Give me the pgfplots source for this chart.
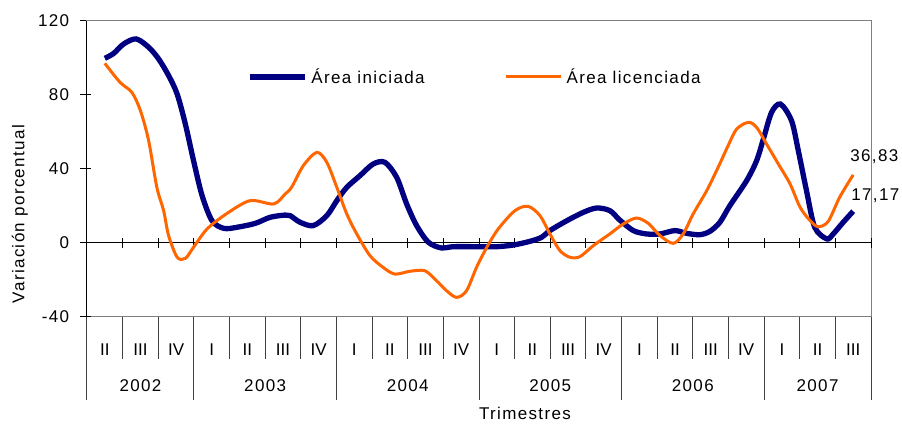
\documentclass[border=0pt]{standalone}
\usepackage{fontspec}
\setmainfont{Liberation Sans}[LetterSpace=8]
\newfontfamily\tightfont{Liberation Sans}
\usepackage{pgfplots}
\pgfplotsset{compat=1.18}
\definecolor{navyline}{RGB}{0,0,128}
\definecolor{orangeline}{RGB}{255,102,0}
\definecolor{framegray}{RGB}{128,128,128}
\begin{document}
\fontsize{17pt}{20pt}\selectfont
\begin{tikzpicture}
\useasboundingbox (-87pt,-110pt) rectangle (815pt,317pt);
\begin{axis}[
  at={(0pt,0pt)}, anchor=south west,
  scale only axis, width=784pt, height=296pt,
  xmin=-0.5, xmax=21.5, ymin=-40, ymax=120,
  clip=false,
  axis line style={framegray, line width=1pt},
  xtick={0,...,21},
  xticklabels={II,III,IV,I,II,III,IV,I,II,III,IV,I,II,III,IV,I,II,III,IV,I,II,III},
  xtick style={draw=none},
  xticklabel style={anchor=base, yshift=-32pt, font=\tightfont},
  ytick={-40,0,40,80,120},
  ytick pos=left, tick align=outside,
  major tick length=7pt,
  ytick style={black, line width=1pt},
  yticklabel style={anchor=east, xshift=-5pt},
  /pgf/number format/assume math mode=true,
  legend columns=2,
  legend style={draw=none, fill=none, at={(0.204,0.811)}, anchor=west, inner sep=0pt,
    /tikz/every even column/.append style={column sep=78pt}},
  legend image code/.code={\draw[#1] (0pt,0pt) -- (55pt,0pt);},
  legend cell align=left,
]
\draw[black, line width=1pt] (axis cs:-0.5,0) -- (axis cs:21.5,0);
\pgfplotsinvokeforeach{0.5,1.5,...,21.5}{
  \draw[black, line width=1pt] (axis cs:#1,0) ++(0pt,-5pt) -- ++(0pt,10pt);
}
\pgfplotsinvokeforeach{-40,40,80}{
  \draw[black, line width=1pt] (axis cs:-0.5,#1) -- ++(4pt,0pt);
}
\pgfplotsinvokeforeach{0.5,1.5,...,20.5}{
  \draw[black!75, line width=1pt] (axis cs:#1,-40) -- ++(0pt,-42pt);
}
\pgfplotsinvokeforeach{-0.5,2.5,6.5,10.5,14.5,18.5,21.5}{
  \draw[black!75, line width=1pt] (axis cs:#1,-40) -- ++(0pt,-83pt);
}
\draw[black, line width=1pt] (axis cs:-0.5,-40) -- (axis cs:-0.5,120);

\addplot[navyline, line width=5.3pt, smooth] coordinates {
(0,99.8)(0.25,102.5)(0.53,107.6)(0.88,110.3)(1.23,105.8)(1.51,99.5)(1.79,90.5)(2.03,80.5)(2.26,64.3)(2.49,44.5)(2.73,25.6)(3.01,12)(3.34,7.9)(3.71,8.5)(4.22,10.6)(4.64,13.9)(5.06,15.1)(5.20,14.8)(5.48,11.2)(5.85,9.4)(6.23,14.8)(6.51,22.9)(6.79,30.1)(7.16,36.4)(7.53,42.7)(7.86,43.6)(8.19,35.5)(8.47,21.1)(8.75,9.4)(9.08,0.4)(9.45,-2.7)(9.78,-2)(10.53,-2)(11.0,-2)(11.46,-1.1)(11.93,0.9)(12.26,3.1)(12.49,6.7)(12.96,12)(13.43,16.6)(13.80,18.9)(14.17,17.5)(14.45,12.4)(14.83,6.7)(15.20,4.9)(15.58,4.9)(16.0,6.7)(16.33,5.2)(16.70,4.5)(16.98,6.3)(17.26,11.2)(17.54,20.2)(18.01,33.7)(18.29,44.5)(18.48,56.2)(18.71,70.6)(18.96,75.1)(19.27,66.1)(19.46,49.9)(19.69,28.3)(19.92,8.5)(20.26,2.2)(20.44,4.9)(20.72,11.2)(21,17.17)
};
\addlegendentry{\hspace{2pt}Área iniciada}
\addplot[orangeline, line width=3pt, smooth] coordinates {
(0,97.1)(0.43,86.8)(0.76,81.4)(1.0,71.5)(1.23,55.3)(1.46,30.1)(1.65,17.5)(1.79,4)(2.03,-7.7)(2.26,-8.3)(2.49,-2.3)(2.87,7.6)(3.43,16)(4.08,22.9)(4.74,21.1)(5.06,26.5)(5.24,30.1)(5.57,41.8)(5.95,49)(6.23,43.6)(6.51,30.1)(6.79,15.7)(7.07,4.9)(7.44,-6.8)(7.81,-13.2)(8.14,-16.8)(8.56,-15.3)(8.98,-15)(9.31,-20.4)(9.59,-25.8)(9.87,-29.4)(10.15,-25.8)(10.43,-13.2)(10.72,-2.3)(11.04,7.6)(11.51,17.5)(11.88,19.8)(12.21,14.8)(12.49,4.9)(12.77,-4.1)(13.05,-7.7)(13.33,-7.4)(13.71,-1.4)(14.17,4.9)(14.55,10.3)(14.92,13.5)(15.25,10.6)(15.58,4)(15.95,-0.2)(16.23,4.9)(16.51,15.7)(16.89,28.3)(17.21,40.9)(17.49,52.6)(17.73,61.6)(18.06,65.2)(18.29,62.5)(18.57,53.5)(18.90,42.7)(19.23,31.9)(19.51,19.3)(19.79,12.1)(20.02,8.8)(20.30,11.7)(20.62,24.7)(21,36.83)
};
\addlegendentry{\hspace{2pt}Área licenciada}

\node[anchor=west, inner sep=0pt, xshift=-3pt, yshift=18pt] at (axis cs:21,36.83) {36,83};
\node[anchor=west, inner sep=0pt, xshift=-2pt, yshift=15pt] at (axis cs:21,17.17) {17,17};

\node[anchor=base] at ([yshift=-75pt]axis cs:1,-40) {2002};
\node[anchor=base] at ([yshift=-75pt]axis cs:4.5,-40) {2003};
\node[anchor=base] at ([yshift=-75pt]axis cs:8.5,-40) {2004};
\node[anchor=base] at ([yshift=-75pt]axis cs:12.5,-40) {2005};
\node[anchor=base] at ([yshift=-75pt]axis cs:16.5,-40) {2006};
\node[anchor=base] at ([yshift=-75pt]axis cs:20,-40) {2007};
\node[anchor=base] at ([yshift=-102.5pt]axis cs:11.79,-40) {Trimestres};
\end{axis}
\node[rotate=90] at (-67pt,103pt) {Variación porcentual};
\end{tikzpicture}
\end{document}
